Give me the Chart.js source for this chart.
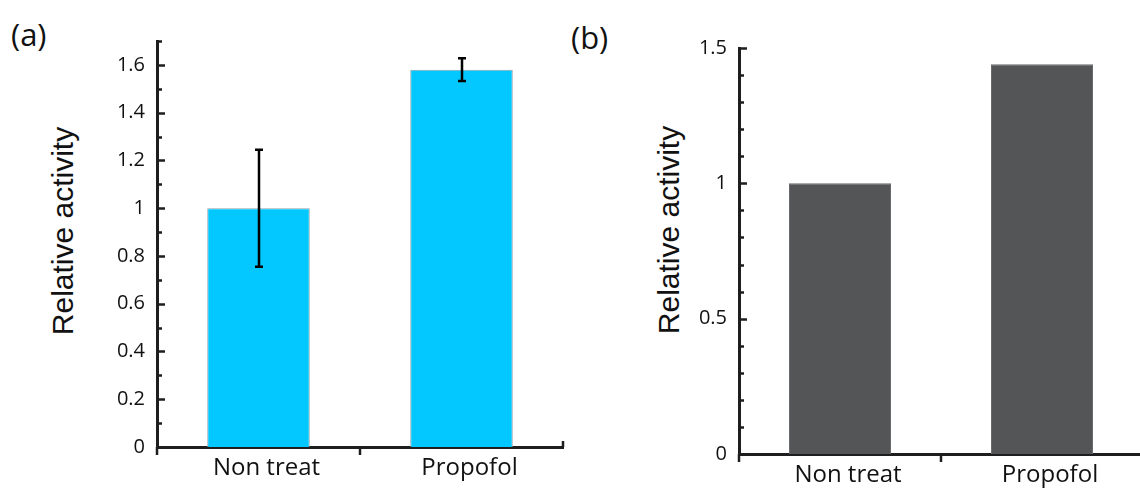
<!DOCTYPE html>
<html>
<head>
<meta charset="utf-8">
<script src="https://cdn.jsdelivr.net/npm/chart.js@4"></script>
<style>
    html, body { margin: 0; padding: 0; background: #fff; overflow: hidden; }
    body { width: 1140px; height: 489px; position: relative; }
    canvas { position: absolute; top: 0; }
    .panel { position: absolute; font: 31px "Open Sans", sans-serif; color: #111; line-height: 34px; }
    .ytitle { position: absolute; font: 30px "Liberation Sans", Arial, sans-serif; color: #111;
              line-height: 34px; white-space: nowrap; transform: translate(-50%, -50%) rotate(-90deg); }
</style>
</head>
<body>
<div class="panel" style="left:11px; top:17px">(a)</div>
<div class="panel" style="left:571px; top:20px">(b)</div>
<div class="ytitle" style="left:63px; top:231px">Relative activity</div>
<div class="ytitle" style="left:669px; top:230px">Relative activity</div>
<canvas id="ca" width="570" height="489" style="left:0"></canvas>
<canvas id="cb" width="580" height="489" style="left:570px"></canvas>
<script>
// data
const CATS = ['Non treat', 'Propofol'];
const ACT_A = [1.0, 1.58];
const ERR_A = [0.245, 0.048];
const ACT_B = [1.0, 1.44];
const TICKS_A = [0, 0.2, 0.4, 0.6, 0.8, 1, 1.2, 1.4, 1.6];
const TICKS_B = [0, 0.5, 1, 1.5];

const INK = '#1e1e1e';

// minor/major ticks pointing into the plot + category boundary ticks
const axisMarks = {
    id: 'axisMarks',
    afterDraw(chart, args, opts) {
        const { ctx, chartArea: a } = chart;
        const y = chart.scales.y, x = chart.scales.x;
        ctx.save();
        ctx.strokeStyle = INK;
        ctx.lineWidth = 2.5;
        ctx.beginPath();
        for (let k = 0; k * opts.minor <= y.max + 1e-9; k++) {
            const v = k * opts.minor;
            const major = opts.major.some(m => Math.abs(m - v) < 1e-6);
            const py = Math.round(y.getPixelForValue(v)) + 0.5;
            ctx.moveTo(a.left, py);
            ctx.lineTo(a.left + (major ? 8 : 5), py);
        }
        const n = CATS.length;
        for (let i = 0; i <= n; i++) {
            const px = Math.round(x.left + i * x.width / n);
            ctx.moveTo(px, a.bottom);
            ctx.lineTo(px, i < n ? a.bottom + 8 : a.bottom - 6);
        }
        ctx.stroke();
        ctx.restore();
    }
};

const errorBars = {
    id: 'errorBars',
    afterDatasetsDraw(chart, args, opts) {
        if (!opts.errors) return;
        const { ctx } = chart;
        const y = chart.scales.y;
        const ds = chart.data.datasets[0];
        ctx.save();
        ctx.strokeStyle = '#000';
        ctx.lineWidth = 2.5;
        chart.getDatasetMeta(0).data.forEach((bar, i) => {
            const e = opts.errors[i];
            const t = y.getPixelForValue(ds.data[i] + e);
            const b = y.getPixelForValue(ds.data[i] - e);
            const bx = Math.round(bar.x);
            ctx.beginPath();
            ctx.moveTo(bx, t); ctx.lineTo(bx, b);
            ctx.moveTo(bx - 4, t); ctx.lineTo(bx + 4, t);
            ctx.moveTo(bx - 4, b); ctx.lineTo(bx + 4, b);
            ctx.stroke();
        });
        ctx.restore();
    }
};

function makeChart(id, values, ticks, yMax, cfg) {
    return new Chart(document.getElementById(id), {
        type: 'bar',
        data: {
            labels: CATS,
            datasets: [{
                data: values,
                backgroundColor: cfg.fill,
                borderColor: cfg.edge,
                borderWidth: cfg.edgeWidth,
                borderSkipped: 'bottom',
                categoryPercentage: 1,
                barPercentage: 0.505
            }]
        },
        options: {
            responsive: false,
            animation: false,
            devicePixelRatio: 1,
            layout: { padding: { left: 0, right: 7, top: cfg.top, bottom: 0 } },
            plugins: {
                legend: { display: false },
                tooltip: { enabled: false },
                errorBars: { errors: cfg.errors },
                axisMarks: { major: ticks, minor: 0.1 }
            },
            scales: {
                x: {
                    grid: { display: false, drawTicks: false },
                    border: { display: true, color: INK, width: 3 },
                    ticks: {
                        color: '#111', padding: 7, labelOffset: 8,
                        font: { family: 'Open Sans', size: 24 }
                    },
                    afterFit(s) { s.height = cfg.xh; }
                },
                y: {
                    min: 0, max: yMax,
                    grid: { display: false, drawTicks: false },
                    border: { display: true, color: INK, width: 3 },
                    afterBuildTicks(s) { s.ticks = ticks.map(v => ({ value: v })); },
                    ticks: {
                        color: '#111', padding: 12,
                        font: { family: 'Open Sans', size: 20 },
                        callback: v => String(Math.round(v * 10) / 10)
                    },
                    afterFit(s) { s.width = cfg.yw; }
                }
            }
        },
        plugins: [axisMarks, errorBars]
    });
}

makeChart('ca', ACT_A, TICKS_A, 1.7, {
    fill: '#03c8ff', edge: '#8fa3ab', edgeWidth: 1, errors: ERR_A,
    top: 41, xh: 42, yw: 157
});
makeChart('cb', ACT_B, TICKS_B, 1.5, {
    fill: '#545557', edge: '#6a6b6d', edgeWidth: 1, errors: null,
    top: 48, xh: 35, yw: 169
});
</script>
</body>
</html>
